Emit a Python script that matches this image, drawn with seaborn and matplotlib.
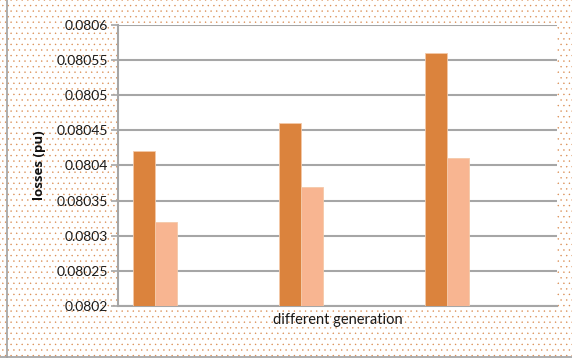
import matplotlib
matplotlib.use("Agg")
import matplotlib.pyplot as plt
import seaborn as sns
import pandas as pd
from matplotlib.lines import Line2D
from matplotlib.patches import Rectangle

# ---- data ----
generations = ["G1", "G2", "G3"]
series_names = ["case A", "case B"]
losses_a = [0.08042, 0.08046, 0.08056]
losses_b = [0.08032, 0.08037, 0.08041]
y_ticks = [0.0802, 0.08025, 0.0803, 0.08035, 0.0804, 0.08045, 0.0805, 0.08055, 0.0806]
y_tick_labels = ["0.0802", "0.08025", "0.0803", "0.08035", "0.0804",
                 "0.08045", "0.0805", "0.08055", "0.0806"]
x_label = "different generation"
y_label = "losses (pu)"

df = pd.DataFrame({
    "gen": generations * 2,
    "series": [series_names[0]] * 3 + [series_names[1]] * 3,
    "loss": losses_a + losses_b,
})

sns.set_theme(style="white")
plt.rcParams["font.family"] = ["Lato", "DejaVu Sans"]
plt.rcParams["hatch.color"] = "#D98A4E"
plt.rcParams["hatch.linewidth"] = 0.25

fig = plt.figure(figsize=(5.72, 3.58), dpi=100)
fig.patch.set_facecolor("white")

# dotted background
bg = Rectangle((0, 0), 1, 1, transform=fig.transFigure, facecolor="white",
               edgecolor="#D98A4E", hatch="...", linewidth=0, zorder=-10)
fig.add_artist(bg)

ax = fig.add_axes([0.2063, 0.1453, 0.9738 - 0.2063, 0.9302 - 0.1453])
ax.set_facecolor("white")

dark = "#DB833D"
light = "#F8B591"
sns.barplot(data=df, x="gen", y="loss", hue="series", width=0.3,
            palette=[dark, light], ax=ax, legend=False, saturation=1,
            edgecolor="#F4C9A8", linewidth=0.6, zorder=3)

ax.set_xlim(-0.25, 2.75)
ax.set_ylim(0.0802, 0.0806)
ax.set_yticks(y_ticks)
ax.set_yticklabels(y_tick_labels, fontsize=10, color="#1a1a1a")
ax.set_xticks([])
ax.yaxis.grid(True, color="#A6A6A6", linewidth=1.5, zorder=0)
ax.set_axisbelow(True)

for s in ["top", "right"]:
    ax.spines[s].set_visible(False)
for s in ["left", "bottom"]:
    ax.spines[s].set_color("#A6A6A6")
    ax.spines[s].set_linewidth(1.5)

ax.tick_params(axis="y", which="major", left=True, length=5, width=1.2,
               color="#A6A6A6", pad=2)

ax.set_xlabel(x_label, fontsize=10.5, color="#1a1a1a", labelpad=5)
ax.set_ylabel(y_label, fontsize=9.5, fontweight="bold", color="#111111",
              labelpad=8, family=["Open Sans", "DejaVu Sans"])

# outer frame lines
fig.add_artist(Line2D([7 / 572, 7 / 572], [0, 1], transform=fig.transFigure,
                      color="#A0A0A0", linewidth=1.2))
fig.add_artist(Line2D([0, 1], [1.5 / 358, 1.5 / 358], transform=fig.transFigure,
                      color="#A0A0A0", linewidth=1.2))

fig.savefig("out.png", dpi=100)
